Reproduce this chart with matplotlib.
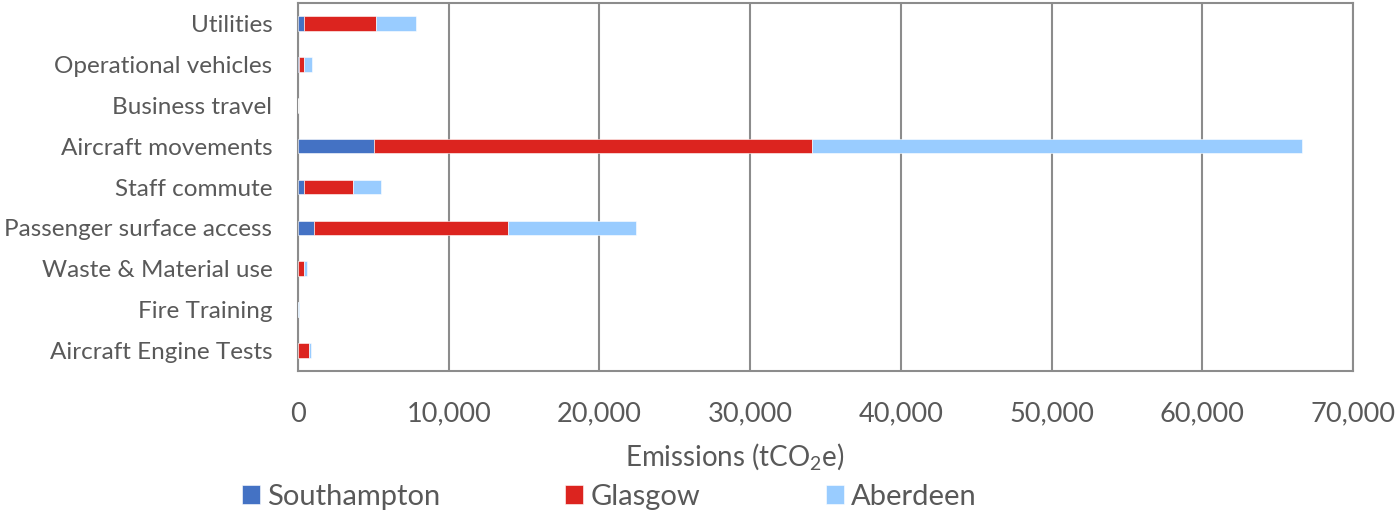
import matplotlib
matplotlib.use("Agg")
import matplotlib.pyplot as plt
import numpy as np

# Emission sources (top to bottom) and tCO2e per airport
categories = ["Utilities", "Operational vehicles", "Business travel",
              "Aircraft movements", "Staff commute", "Passenger surface access",
              "Waste & Material use", "Fire Training", "Aircraft Engine Tests"]
southampton = [400, 50, 0, 5030, 365, 1050, 20, 0, 30]
glasgow = [4750, 320, 0, 29070, 3300, 12880, 410, 0, 670]
aberdeen = [2670, 570, 0, 32510, 1815, 8480, 180, 50, 130]

series_names = ["Southampton", "Glasgow", "Aberdeen"]
colors = ["#4472C4", "#DC241F", "#99CCFF"]
xticks = [0, 10000, 20000, 30000, 40000, 50000, 60000, 70000]

plt.rcParams["font.family"] = ["Lato", "DejaVu Sans"]
plt.rcParams["mathtext.default"] = "regular"
text_color = "#595959"
grid_color = "#8C8C8C"

fig = plt.figure(figsize=(14, 5.15), dpi=100)
ax = fig.add_axes([298 / 1400, 1 - 371 / 515, (1353 - 298) / 1400, (371 - 3) / 515])

y = np.arange(len(categories))
left = np.zeros(len(categories))
for name, vals, c in zip(series_names, [southampton, glasgow, aberdeen], colors):
    vals = np.array(vals, dtype=float)
    ax.barh(y, vals, left=left, height=0.36, color=c, label=name,
            edgecolor="white", linewidth=0.4, zorder=3)
    left += vals

ax.set_ylim(len(categories) - 0.5, -0.5)
ax.set_xlim(0, 70000)
ax.set_yticks(y)
ax.set_yticklabels(categories, fontsize=17.5, color=text_color)
ax.set_xticks(xticks)
ax.set_xticklabels([f"{v:,}" for v in xticks], fontsize=19.5, color=text_color)
ax.tick_params(axis="x", length=0, pad=22)
ax.tick_params(axis="y", length=0, pad=18.5)

ax.grid(axis="x", color=grid_color, linewidth=1.5, zorder=0)
for s in ax.spines.values():
    s.set_color(grid_color)
    s.set_linewidth(1.5)

ax.set_xlabel("Emissions (tCO$_2$e)", fontsize=20, color=text_color)
ax.xaxis.set_label_coords((735 - 298) / 1055, -(456 - 371) / 368, transform=ax.transAxes)
ax.xaxis.label.set_va("center")

handles, labels = ax.get_legend_handles_labels()
fig.legend(handles, labels, loc="center", bbox_to_anchor=(609 / 1400, 1 - 497 / 515),
           ncol=3, frameon=False, fontsize=21, labelcolor=text_color,
           handlelength=0.62, handleheight=0.62, handletextpad=0.24,
           columnspacing=4.3, borderpad=0)

fig.savefig("out.png", dpi=100)
